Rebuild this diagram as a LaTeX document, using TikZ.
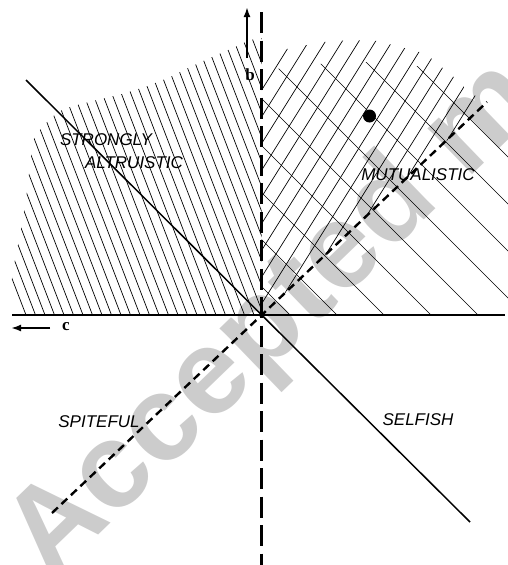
\documentclass[tikz,border=0pt]{standalone}
\usepackage{fontspec}
\setmainfont{Liberation Serif}
\setsansfont{Liberation Sans}
\usetikzlibrary{arrows.meta}
\tikzset{
  hatch/.style={line width=0.7pt, black},
  axisline/.style={line width=1.2pt},
  diagline/.style={line width=1.5pt},
  bigdash/.style={line width=3.3pt, dash pattern=on 21pt off 7.5pt},
  smalldash/.style={line width=2.4pt, dash pattern=on 8pt off 5pt},
  region/.style={font=\sffamily\itshape\fontsize{17}{17}\selectfont, inner sep=0pt},
  axlabel/.style={font=\bfseries\fontsize{17}{17}\selectfont, inner sep=0pt},
  axarrow/.style={line width=2pt, -{Latex[length=10pt,width=7pt]}},
  wmark/.style={font=\sffamily\bfseries\fontsize{121}{121}\selectfont, text=black!20, inner sep=0pt, rotate=44, anchor=base west}
}
\begin{document}
\begin{tikzpicture}[x=1pt,y=-1pt]
\useasboundingbox (0,0) rectangle (508,565);
\begin{scope}
\clip (0,0) rectangle (508,565);
\node[wmark] (wm) at (50,582) {Accepted manuscript};
\end{scope}
\coordinate (O) at (261.7,315);
% left hatching
\begin{scope}
\clip (261.7,315) -- (10,315) -- (10,292) -- (14,265) -- (20,235) -- (26,200) -- (30,165) -- (33,140) -- (42,127) -- (52,117) -- (62,110) -- (73,106) -- (97,100) -- (122,94) -- (145,87) -- (168,78) -- (190,67) -- (212,57) -- (235,47) -- (250,40) -- (261.7,38) -- cycle;
\foreach \xb in {26,35.5,...,380}{
  \draw[hatch] ({\xb-320/2.6},-5) -- ({\xb+10/2.6},325);
}
\end{scope}
% right hatching "\"
\begin{scope}
\clip (261.7,315) -- (261.7,96) -- (270,80) -- (280,67) -- (300,64) -- (318,64) -- (365,62) -- (400,64) -- (424,67) -- (445,75) -- (508,100) -- (508,315) -- cycle;
\foreach \k in {-25,22,...,360}{
  \draw[hatch] ({\k+0},0) -- ({\k+330},330);
}
\end{scope}
% right hatching "/"
\begin{scope}
\clip (261.7,315) -- (261.7,55) -- (287,49) -- (307,45) -- (323,42) -- (350,40) -- (378,41) -- (397,46) -- (423,53) -- (435,61) -- (446,71) -- (460,82) -- (470,94) -- (490,100) -- cycle;
\foreach \c in {90,116.7,...,460}{
  \draw[hatch] (261.7,\c) -- ({261.7+350},{\c-1.6*350});
}
\end{scope}
% axes
\coordinate (hl) at (12,315);
\coordinate (hr) at (505,315);
\draw[axisline] (hl) -- (hr);
\coordinate (vt) at (261.7,12);
\coordinate (vb) at (261.7,566);
\draw[bigdash] (vt) -- (vb);
% diagonals
\coordinate (s1) at (26,80);
\coordinate (s2) at (470,522);
\draw[diagline] (s1) -- (O) -- (s2);
\coordinate (d1) at (52,513);
\coordinate (d2) at (487,102);
\draw[smalldash] (d1) -- (O) -- (d2);
% axis arrows and labels
\coordinate (bs) at (247,58);
\coordinate (be) at (247,7);
\draw[axarrow] (bs) -- (be);
\node[axlabel] (blab) at (250,75) {b};
\coordinate (cs) at (50,328);
\coordinate (ce) at (11,328);
\draw[axarrow] (cs) -- (ce);
\node[axlabel] (clab) at (66,327) {c};
% dot
\fill (369.5,116) circle (6.5);
% region labels
\node[region] (strong) at (106,140) {STRONGLY};
\node[region] (altru) at (134,163) {ALTRUISTIC};
\node[region] (mutual) at (418,175) {MUTUALISTIC};
\node[region] (spite) at (99,422) {SPITEFUL};
\node[region] (selfish) at (418,420) {SELFISH};
\end{tikzpicture}
\end{document}
